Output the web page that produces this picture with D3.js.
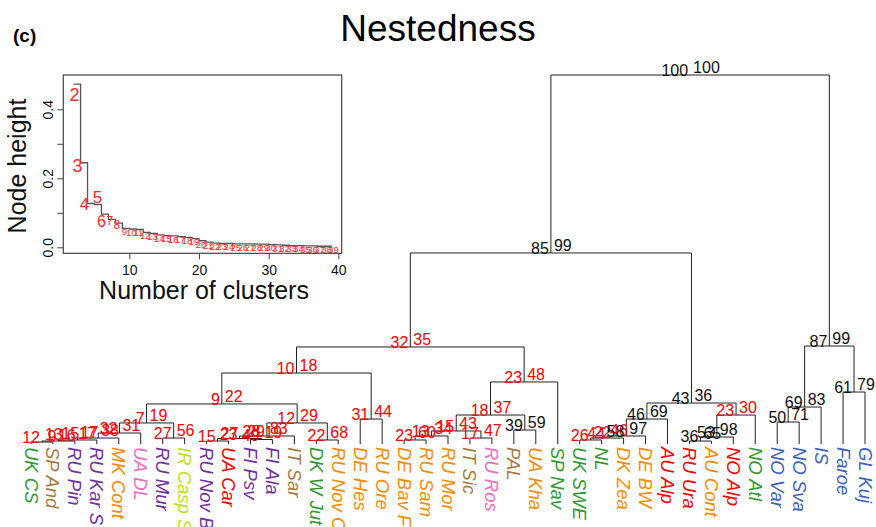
<!DOCTYPE html>
<html><head><meta charset="utf-8">
<script src="https://cdn.jsdelivr.net/npm/d3@7"></script>
<style>body{margin:0;background:#fff}svg{display:block;font-family:"Liberation Sans",Arial,sans-serif}</style>
</head><body><svg id="c" width="876" height="527"></svg>
<script>
// ---- data ----
const leaves = ["UK CS","SP And","RU Pin","RU Kar S","MK Cont","UA DL","RU Mur","IR Casp S","RU Nov B","UA Car","FI Psv","FI Ala","IT Sar","DK W Jut","RU Nov C","DE Hes","RU Ore","DE Bav F","RU Sam","RU Mor","IT Sic","RU Ros","PAL","UA Kha","SP Nav","UK SWE","NL","DK Zea","DE BW","AU Alp","RU Ura","AU Cont","NO Alp","NO Atl","NO Var","NO Sva","IS","Faroe","GL Kuj"];
const leafGroup = ["G","B","P","P","O","K","P","Y","P","R","P","P","B","G","O","O","O","O","O","O","B","K","B","O","G","G","G","O","O","R","R","O","R","G","L","L","L","L","L"];
// hclust-style merge table (negative = leaf index, positive = earlier merge)
const merges = [[-1,-2],[1,-3],[2,-4],[3,-5],[4,-6],[-7,-8],[5,6],[-9,-10],[-11,-12],[8,9],[10,-13],[-14,-15],[11,12],[7,13],[-16,-17],[14,15],[-18,-19],[17,-20],[-21,-22],[18,19],[-23,-24],[20,21],[22,-25],[16,23],[-26,-27],[25,-28],[26,-29],[27,-30],[-31,-32],[29,-33],[30,-34],[28,31],[24,32],[-35,-36],[34,-37],[-38,-39],[35,36],[33,37]];
const heights = [0.0025,0.0038,0.0051,0.0076,0.0140,0.0076,0.0268,0.0038,0.0057,0.0070,0.0102,0.0051,0.0268,0.0510,0.0318,0.0904,0.0051,0.0102,0.0076,0.0166,0.0178,0.0369,0.0790,0.1236,0.0051,0.0076,0.0102,0.0318,0.0038,0.0089,0.0369,0.0522,0.2433,0.0280,0.0471,0.0662,0.1248,0.470];
const au = [12,9,16,17,32,27,7,15,49,23,29,22,12,9,31,10,23,13,17,15,39,18,23,32,26,44,58,46,36,53,23,43,85,50,69,61,87,100];
const bp = [13,15,17,38,31,56,19,27,19,28,83,68,29,22,44,18,60,34,47,43,59,37,48,35,22,46,97,69,65,98,30,36,99,71,83,79,99,100];
const labelTone = ["r","r","r","r","r","r","r","r","r","r","r","r","r","r","r","r","r","r","r","r","k","r","r","r","r","r","k","k","k","k","r","k","k","k","k","k","k","k"];
// inset: node height by number of clusters
const kClusters = [2,3,4,5,6,7,8,9,10,11,12,13,14,15,16,17,18,19,20,21,22,23,24,25,26,27,28,29,30,31,32,33,34,35,36,37,38,39];
const nodeHeight = [0.473,0.245,0.127,0.124,0.096,0.081,0.070,0.055,0.053,0.052,0.043,0.040,0.036,0.034,0.033,0.031,0.029,0.025,0.019,0.015,0.012,0.011,0.011,0.010,0.010,0.010,0.009,0.009,0.008,0.007,0.006,0.005,0.005,0.004,0.004,0.003,0.003,0.002];
const xTicks = [10,20,30,40];
const yTicks = [0,0.1,0.2,0.3,0.4];
const yTickLabels = {0:"0.0",0.2:"0.2",0.4:"0.4"};

// ---- styles ----
const groupColor = {G:"#2f9a2f",B:"#a77b3f",P:"#7030a0",O:"#ff8a00",K:"#f26cc0",Y:"#c3dc1a",R:"#ff0000",L:"#3a62bb"};
const toneColor = {r:"#ff0000",k:"#111"};
const insetLabelStyle = k => {
  if (k <= 3) return {fs:18, dx: k===2 ? 1 : -3, dy: k===2 ? 11 : 3};
  if (k === 4) return {fs:17, dx:-3, dy:1};
  if (k === 5) return {fs:17, dx:3, dy:-7};
  if (k === 6) return {fs:16, dx:0, dy:7};
  if (k <= 8) return {fs:12, dx:1.5, dy:1.2};
  return {fs:9.5, dx:2, dy:3.5};
};

const svg = d3.select("#c");
svg.append("text").attr("x",438).attr("y",41).attr("text-anchor","middle").attr("font-size",37).text("Nestedness");
svg.append("text").attr("x",13).attr("y",42).attr("font-size",19).attr("font-weight","bold").text("(c)");

// ---- dendrogram ----
const x = d3.scalePoint().domain(leaves).range([31,865]);
const y = d3.scaleLinear().domain([0,0.47]).range([444,75]);
const pos = [];
const cx = i => i < 0 ? x(leaves[-i-1]) : pos[i-1].x;
const ch = i => i < 0 ? 0 : heights[i-1];
merges.forEach((m,i) => pos.push({x:(cx(m[0])+cx(m[1]))/2, h:heights[i]}));

const g = svg.append("g");
merges.forEach((m,i) => {
  const [a,b] = m;
  const p = d3.path();
  p.moveTo(cx(a), y(ch(a)));
  p.lineTo(cx(a), y(heights[i]));
  p.lineTo(cx(b), y(heights[i]));
  p.lineTo(cx(b), y(ch(b)));
  g.append("path").attr("d",p.toString()).attr("fill","none").attr("stroke","#222").attr("stroke-width",1);
});
merges.forEach((m,i) => {
  const px = pos[i].x, py = y(heights[i]);
  g.append("text").attr("x",px-2).attr("y",py+1).attr("text-anchor","end").attr("font-size",16)
    .attr("fill",toneColor[labelTone[i]]).text(au[i]);
  g.append("text").attr("x",px+3).attr("y",py-2).attr("text-anchor","start").attr("font-size",16)
    .attr("fill",toneColor[labelTone[i]]).text(bp[i]);
});
leaves.forEach((l,i) => {
  g.append("text").attr("transform",`translate(${x(l)},447) rotate(90)`).attr("dy","0.35em")
    .attr("font-size",18.5).attr("font-style","italic").attr("fill",groupColor[leafGroup[i]]).text(l);
});

// ---- inset ----
const ix = d3.scaleLinear().domain([0.52,40.48]).range([63.3,341.7]);
const iy = d3.scaleLinear().domain([-0.0174,0.4994]).range([253.3,75]);
const ins = svg.append("g");
const line = d3.line().x((d,i)=>ix(kClusters[i])).y(d=>iy(d)).curve(d3.curveStepAfter);
ins.append("path").attr("d",line(nodeHeight)).attr("fill","none").attr("stroke","#555").attr("stroke-width",1.3);
nodeHeight.forEach((h,i) => {
  const k = kClusters[i];
  const s = insetLabelStyle(k);
  ins.append("text").attr("x",ix(k)+s.dx).attr("y",iy(h)+s.dy).attr("dy","0.35em").attr("text-anchor","middle")
    .attr("font-size",s.fs).attr("fill","#ff2a2a").text(k);
});
ins.append("rect").attr("x",63.3).attr("y",75).attr("width",278.4).attr("height",178.3)
  .attr("fill","none").attr("stroke","#444").attr("stroke-width",1.2);
const xa = ins.append("g").attr("transform","translate(0,253.3)").call(d3.axisBottom(ix).tickValues(xTicks).tickSize(6).tickSizeOuter(0));
xa.select(".domain").remove();
xa.selectAll("text").attr("font-size",14).attr("font-family","Liberation Sans, Arial, sans-serif").attr("fill","#111").attr("dy","0.9em");
xa.selectAll("line").attr("stroke","#444");
const ya = ins.append("g").attr("transform","translate(63.3,0)").call(d3.axisLeft(iy).tickValues(yTicks).tickSize(6).tickSizeOuter(0).tickFormat(d => yTickLabels[d] || ""));
ya.select(".domain").remove();
ya.selectAll("line").attr("stroke","#444");
ya.selectAll("text").attr("font-size",14).attr("font-family","Liberation Sans, Arial, sans-serif").attr("fill","#111")
  .attr("text-anchor","middle").attr("x",0).attr("dy",0).attr("transform","translate(-10,0) rotate(-90)");
ins.append("text").attr("x",204).attr("y",299).attr("text-anchor","middle").attr("font-size",25).attr("fill","#111").text("Number of clusters");
ins.append("text").attr("transform","translate(26,166) rotate(-90)").attr("text-anchor","middle").attr("font-size",25).attr("fill","#111").text("Node height");
</script></body></html>
